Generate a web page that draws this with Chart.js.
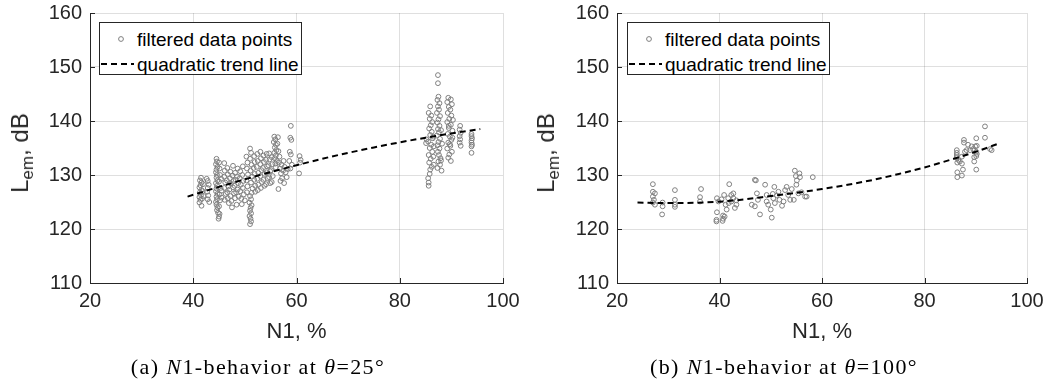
<!DOCTYPE html>
<html>
<head>
<meta charset="utf-8">
<script src="https://cdn.jsdelivr.net/npm/chart.js@4.4.1/dist/chart.umd.min.js"></script>
<style>
  html, body { margin:0; padding:0; background:#fff; }
  body { width:1049px; height:392px; position:relative; overflow:hidden; font-family:"Liberation Sans", Arial, sans-serif; color:#262626; }
  .panel { position:absolute; top:0; }
  .ylab { position:absolute; font-size:24px; white-space:nowrap; transform:translate(-50%,-50%) rotate(-90deg); line-height:1; }
  .ylab sub { font-size:17px; vertical-align:-5px; line-height:1; }
  .cap { position:absolute; font-family:"Liberation Serif", "Times New Roman", serif; font-size:22px; letter-spacing:1.4px; white-space:nowrap; transform:translate(-50%,-50%); color:#000; }
  .legend { position:absolute; width:203px; height:53px; border:1px solid #262626; background:#fff; box-sizing:border-box; font-size:19px; }
  .legend .t { position:absolute; left:37px; white-space:nowrap; line-height:1; transform:translateY(-50%); color:#000; }
  .legend svg { position:absolute; left:0; top:0; }
</style>
</head>
<body>
<div class="panel" style="left:0;width:525px;height:392px"><canvas id="cA" width="525" height="392"></canvas></div>
<div class="panel" style="left:525px;width:524px;height:392px"><canvas id="cB" width="524" height="392"></canvas></div>

<div class="ylab" style="left:22px;top:153px">L<sub>em</sub>, dB</div>
<div class="ylab" style="left:548px;top:153px">L<sub>em</sub>, dB</div>

<div class="legend" style="left:99px;top:22px">
  <svg width="203" height="53"><circle cx="21" cy="16" r="2.4" fill="none" stroke="#808080" stroke-width="1"/><line x1="1" y1="41" x2="34" y2="41" stroke="#000" stroke-width="2" stroke-dasharray="6,4"/></svg>
  <div class="t" style="top:16px">filtered data points</div>
  <div class="t" style="top:41px">quadratic trend line</div>
</div>
<div class="legend" style="left:627px;top:22px">
  <svg width="203" height="53"><circle cx="21" cy="16" r="2.4" fill="none" stroke="#808080" stroke-width="1"/><line x1="1" y1="41" x2="34" y2="41" stroke="#000" stroke-width="2" stroke-dasharray="6,4"/></svg>
  <div class="t" style="top:16px">filtered data points</div>
  <div class="t" style="top:41px">quadratic trend line</div>
</div>

<div class="cap" style="left:258px;top:367px">(a) <i>N</i>1-behavior at <i>θ</i>=25°</div>
<div class="cap" style="left:784px;top:367px">(b) <i>N</i>1-behavior at <i>θ</i>=100°</div>

<script>
// ---------- data ----------
const xTicks = [20, 40, 60, 80, 100];
const yTicks = [110, 120, 130, 140, 150, 160];
const xTitle = "N1, %";

// (a) theta = 25 deg : filtered data points [N1 %, Lem dB]
const pointsA = [
  [41.2,124.9],[41.4,125.4],[41.2,125.9],[41.5,126.3],[41.3,126.8],[41.6,127.2],[41.2,127.7],[41.4,128.1],[41.6,128.6],[41.3,129.0],[41.5,129.5],[41.7,125.6],[41.8,127.0],[41.9,128.3],[42.0,126.1],[41.6,124.3],
  [42.8,125.5],[42.9,126.2],[42.7,126.9],[42.8,127.6],[43.0,128.2],[42.8,128.9],[42.6,129.3],[43.1,125.0],
  [44.5,133.0],[44.6,132.5],[44.4,132.0],[44.7,131.5],[44.5,131.0],[44.4,130.5],[44.6,130.0],[44.5,129.5],[44.7,129.0],[44.4,128.5],[44.6,128.0],[44.5,127.5],[44.4,127.0],[44.7,126.5],[44.5,126.0],[44.6,125.5],[44.4,125.0],[44.5,124.5],[44.7,124.0],[44.6,123.5],[44.8,123.0],[45.0,122.3],[44.9,121.9],[45.1,122.8],[45.0,124.2],[45.2,125.3],[45.1,126.4],[45.3,127.6],[45.0,128.8],[45.2,130.0],[45.1,131.2],[45.0,132.3],[45.4,129.3],[45.5,127.1],[45.5,125.8],
  [46.0,132.2],[46.1,130.8],[46.0,129.7],[46.2,128.6],[46.0,127.6],[46.3,126.5],[46.1,125.4],[46.6,131.3],[46.7,130.1],[46.5,129.0],[46.8,127.9],[46.6,126.8],[46.7,125.7],[46.9,124.8],[47.2,130.6],[47.1,129.4],[47.3,128.4],[47.0,127.3],[47.2,126.1],[47.4,125.2],[47.7,131.7],[47.6,129.9],[47.8,128.9],[47.7,127.7],[47.9,126.6],[48.1,130.4],[48.2,129.1],[48.0,128.0],[48.3,126.8],[48.1,125.7],[48.6,131.2],[48.5,129.7],[48.7,128.5],[48.6,127.3],[48.8,126.0],[49.1,130.7],[49.0,129.4],[49.2,128.2],[49.1,127.0],[49.3,125.6],[49.6,131.6],[49.5,130.0],[49.7,128.9],[49.6,127.6],[49.8,126.4],[50.0,125.3],[48.4,124.5],[47.5,124.0],[49.4,124.6],
  [51.0,120.9],[51.2,121.4],[51.1,121.9],[50.9,122.4],[51.2,122.9],[51.0,123.4],[51.1,123.9],[51.3,124.4],[50.9,124.9],[51.2,125.5],[51.0,126.1],[51.3,126.7],
  [50.3,133.4],[50.5,132.3],[50.4,131.2],[50.6,130.1],[50.3,129.0],[50.5,127.9],[50.4,126.8],[51.0,134.9],[51.2,134.1],[51.0,133.0],[51.3,131.9],[51.1,130.8],[51.4,129.7],[51.2,128.6],[51.5,127.5],[51.8,133.5],[51.9,132.4],[51.7,131.3],[51.9,130.2],[51.8,129.1],[52.0,128.0],[52.0,126.9],
  [52.4,133.9],[52.5,132.6],[52.3,131.5],[52.6,130.4],[52.4,129.3],[52.6,128.2],[52.5,127.2],[53.0,134.3],[53.1,133.1],[53.0,132.0],[53.2,130.9],[53.0,129.8],[53.3,128.7],[53.1,127.6],[53.6,133.6],[53.7,132.4],[53.5,131.3],[53.8,130.2],[53.6,129.1],[53.8,128.0],[54.2,133.9],[54.1,132.8],[54.3,131.6],[54.2,130.5],[54.4,129.4],[54.1,128.3],[54.7,134.0],[54.8,132.9],[54.6,131.8],[54.9,130.7],[54.7,129.6],[54.9,128.5],[55.2,133.3],[55.3,132.0],[55.1,130.9],[55.4,129.8],[55.2,128.7],
  [55.7,137.1],[55.9,136.6],[55.6,136.1],[56.0,135.6],[55.8,135.1],[56.1,134.6],[55.7,134.1],[56.0,133.6],[55.8,133.1],[56.2,132.6],[55.9,132.1],[56.0,131.4],[56.4,137.0],[56.3,135.8],[56.5,134.4],[56.7,133.4],[56.6,132.3],[56.8,131.2],[57.0,130.3],[57.2,129.4],[57.1,131.9],[57.4,130.8],[56.9,128.9],[57.5,132.6],[57.7,131.5],[57.9,130.5],[58.1,129.6],[58.3,131.1],[56.5,127.4],[57.6,128.5],
  [58.9,139.1],[58.8,136.9],[59.0,136.5],[58.7,134.3],[58.9,133.8],[59.1,131.9],[58.8,131.2],[58.6,132.6],
  [60.6,133.5],[60.7,132.3],[60.5,130.3],[60.8,132.8],
  [85.6,128.0],[85.6,128.6],[85.5,129.4],[85.8,130.2],[85.9,131.0],[86.2,131.5],[85.7,132.3],[86.0,133.0],[85.6,133.7],[86.3,134.3],[85.8,135.0],[86.1,135.6],[85.5,136.2],[86.4,136.8],[85.9,137.4],[86.2,138.0],[85.7,138.6],[86.0,139.2],[86.3,139.8],[85.8,140.4],[86.1,141.0],[85.6,141.5],[85.9,142.7],[86.5,137.1],[86.6,135.3],[86.5,133.4],[86.6,131.9],[85.2,136.6],[85.1,135.9],
  [87.4,148.5],[87.4,147.0],[87.5,144.5],[87.3,143.9],[87.7,143.3],[87.4,142.7],[87.6,142.1],[87.2,141.5],[87.8,140.9],[87.5,140.3],[87.3,139.7],[87.7,139.1],[87.4,138.5],[87.6,137.9],[87.2,137.3],[87.8,136.7],[87.5,136.1],[87.3,135.5],[87.7,134.9],[87.4,134.3],[87.6,133.7],[87.9,133.1],[87.5,132.5],[87.8,131.9],[87.3,131.3],[88.1,130.8],[88.0,132.7],[88.2,135.8],[88.0,138.3],
  [89.4,144.3],[89.9,144.0],[89.2,143.5],[90.1,143.1],[89.5,142.6],[89.8,142.1],[89.3,141.5],[90.0,141.0],[89.6,140.4],[89.2,139.8],[89.9,139.3],[89.5,138.7],[90.2,138.2],[89.3,137.6],[89.7,137.1],[90.0,136.5],[89.4,136.0],[89.8,135.4],[89.2,134.9],[90.1,134.3],[89.6,133.8],[89.4,133.2],[89.9,132.6],[89.7,135.7],[89.5,139.1],[90.2,136.9],[90.3,140.2],
  [91.7,139.1],[91.6,138.4],[91.8,137.8],[91.6,137.2],[91.7,136.6],[91.6,136.0],[91.8,135.4],
  [93.9,137.6],[93.9,137.2],[94.0,136.8],[93.9,136.4],[93.9,136.0],[94.0,135.6],[93.9,135.3],[93.9,134.1]
];
// (a) quadratic trend line
const trendAx = [38.9, 45, 50, 55, 60, 65, 70, 75, 80, 85, 90, 95.6];
const trendAy = [126.0, 127.8, 129.2, 130.55, 131.8, 133.0, 134.1, 135.1, 136.05, 136.9, 137.7, 138.5];

// (b) theta = 100 deg : filtered data points [N1 %, Lem dB]
const pointsB = [
  [27.0,128.3],[27.0,126.9],[27.4,126.6],[27.0,126.0],[27.2,125.4],[27.4,124.5],[27.0,124.9],
  [28.9,124.9],[28.9,124.2],[28.8,122.7],
  [31.3,127.2],[31.3,125.4],[31.3,124.5],[31.3,124.1],
  [36.4,127.4],[36.2,125.9],[36.2,125.1],
  [39.5,125.7],[39.5,123.1],[39.4,121.7],[39.4,121.4],[40.7,122.5],[40.7,121.9],[40.6,121.5],[41.0,122.3],[39.8,125.1],
  [40.4,125.5],[40.9,126.3],[41.9,128.3],[41.7,125.7],[41.2,124.5],[41.4,123.6],[42.3,126.3],[42.7,125.7],[42.3,125.1],[43.3,124.5],[43.0,123.9],[42.7,126.6],[41.8,124.8],[43.3,125.3],
  [46.3,124.5],[46.9,124.2],[46.9,129.1],[47.1,129.0],[47.3,126.6],[47.5,125.4],[47.9,122.7],
  [48.9,128.2],[49.2,126.3],[49.2,125.1],[49.5,124.5],[50.0,123.6],[50.2,122.1],[50.5,125.7],[50.7,127.8],[50.4,126.5],[50.8,124.8],[51.2,126.2],[51.5,126.9],[51.7,125.4],[52.2,124.3],[52.5,125.1],[52.8,127.2],[53.1,127.8],[53.4,126.3],[53.8,125.4],[54.1,127.4],
  [54.7,130.8],[54.9,129.8],[55.1,129.0],[55.6,130.3],[55.7,129.6],[55.0,128.2],[55.4,126.6],[54.5,125.4],[56.0,126.8],[56.7,126.0],[57.0,126.0],[58.2,129.6],
  [91.8,139.0],[91.8,136.9],[90.1,136.8],[87.7,136.5],[87.7,136.0],[88.5,135.6],[89.2,135.3],[89.9,135.3],[90.2,135.4],[89.5,134.8],[88.2,134.6],[88.9,134.6],[87.9,134.3],[86.3,134.6],[86.3,134.1],[86.3,133.7],[86.3,133.3],[86.6,132.8],[86.9,132.5],[87.3,132.1],[86.4,132.3],[87.3,133.4],[90.1,134.3],[90.1,133.5],[89.7,133.3],[90.2,133.9],[89.7,132.5],[90.1,131.0],[87.5,131.0],[86.4,130.5],[87.3,129.9],[86.4,129.6],[92.8,134.8],[93.1,134.6]
];
// (b) quadratic trend line
const trendBx = [24, 30, 35, 40, 45, 50, 55, 60, 65, 70, 75, 80, 85, 90, 94.7];
const trendBy = [124.9, 124.8, 124.85, 125.05, 125.5, 126.1, 126.7, 127.4, 128.2, 129.1, 130.2, 131.4, 132.8, 134.3, 135.9];

// ---------- chart construction ----------
const AXIS = '#262626';
const GRID = 'rgba(38,38,38,0.15)';
const FONT = '"Liberation Sans", Arial, sans-serif';

const innerTicks = {
  id: 'innerTicks',
  afterDraw(chart) {
    const {ctx, chartArea: a, scales: {x, y}} = chart;
    ctx.save();
    ctx.strokeStyle = AXIS; ctx.lineWidth = 1;
    ctx.beginPath();
    x.ticks.forEach(t => { const p = Math.round(x.getPixelForValue(t.value)) + 0.5; ctx.moveTo(p, a.bottom); ctx.lineTo(p, a.bottom - 5); });
    y.ticks.forEach(t => { const p = Math.round(y.getPixelForValue(t.value)) + 0.5; ctx.moveTo(a.left, p); ctx.lineTo(a.left + 5, p); });
    ctx.stroke();
    ctx.restore();
  }
};

function makeChart(id, pts, tx, ty, yAxisWidth) {
  const trend = tx.map((v, i) => ({x: v, y: ty[i]}));
  const scatter = pts.map(p => ({x: p[0], y: p[1]}));
  return new Chart(document.getElementById(id), {
    type: 'scatter',
    data: {
      datasets: [
        { type: 'line', label: 'quadratic trend line', data: trend, borderColor: '#000', borderWidth: 2, borderDash: [6, 4], pointRadius: 0, fill: false, tension: 0.4, cubicInterpolationMode: 'monotone' },
        { label: 'filtered data points', data: scatter, pointStyle: 'circle', pointRadius: 2.4, borderWidth: 1, borderColor: '#808080', backgroundColor: 'rgba(0,0,0,0)' }
      ]
    },
    options: {
      responsive: false, animation: false, devicePixelRatio: 1,
      layout: { padding: { top: 13, right: 22, left: 0, bottom: 0 } },
      plugins: { legend: { display: false }, tooltip: { enabled: false } },
      scales: {
        x: {
          type: 'linear', min: xTicks[0], max: xTicks[xTicks.length - 1],
          afterBuildTicks: s => { s.ticks = xTicks.map(v => ({value: v})); },
          afterFit: s => { s.height = 109; s.paddingLeft = 0; s.paddingRight = 0; },
          grid: { color: GRID, drawTicks: false },
          border: { display: true, color: AXIS, width: 1 },
          ticks: { color: AXIS, font: { family: FONT, size: 20 }, padding: 6, maxRotation: 0 },
          title: { display: true, text: xTitle, color: AXIS, font: { family: FONT, size: 22 }, padding: { top: 0, bottom: 47 } }
        },
        y: {
          type: 'linear', min: yTicks[0], max: yTicks[yTicks.length - 1],
          afterBuildTicks: s => { s.ticks = yTicks.map(v => ({value: v})); },
          afterFit: s => { s.width = yAxisWidth; s.paddingTop = 0; s.paddingBottom = 0; },
          grid: { color: GRID, drawTicks: false },
          border: { display: true, color: AXIS, width: 1 },
          ticks: { color: AXIS, font: { family: FONT, size: 20 }, padding: 8 }
        }
      }
    },
    plugins: [innerTicks]
  });
}

makeChart('cA', pointsA, trendAx, trendAy, 90);
makeChart('cB', pointsB, trendBx, trendBy, 92);
</script>
</body>
</html>
